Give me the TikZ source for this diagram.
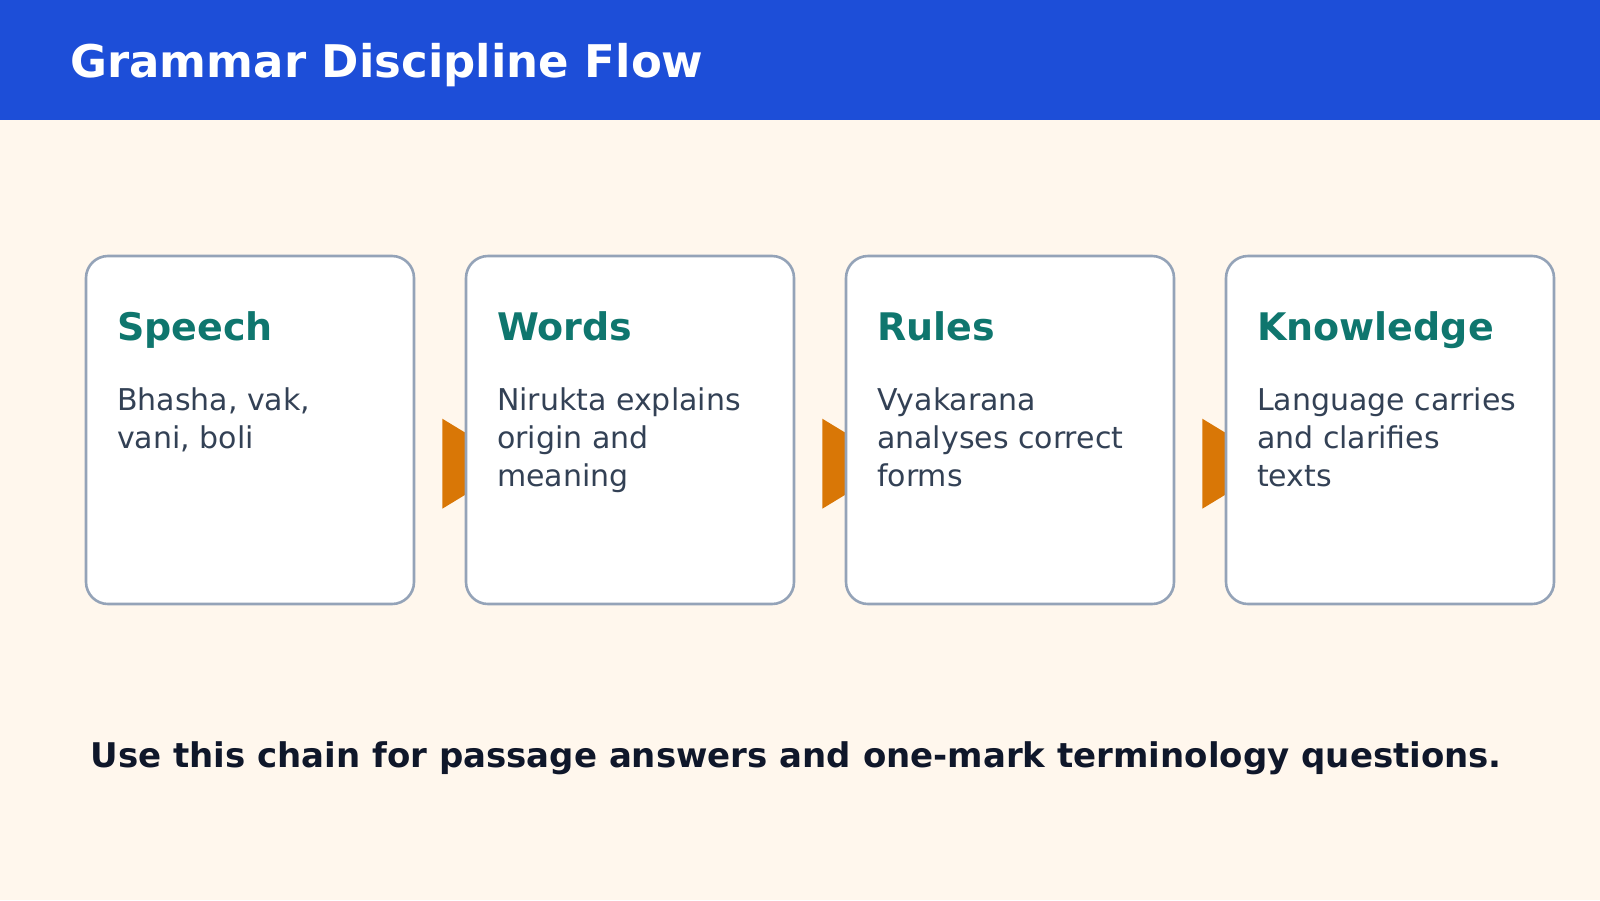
\documentclass[tikz,border=0pt]{standalone}
\usepackage{fontspec}
\setmainfont{DejaVu Sans}
\definecolor{headblue}{HTML}{1D4ED8}
\definecolor{paper}{HTML}{FFF7ED}
\definecolor{edgegray}{HTML}{94A3B8}
\definecolor{headteal}{HTML}{0F766E}
\definecolor{bodyslate}{HTML}{334155}
\definecolor{inkdark}{HTML}{0F172A}
\definecolor{amber1}{HTML}{D97706}
\usetikzlibrary{positioning, calc}
\pgfdeclarelayer{back}
\pgfsetlayers{back,main}

\begin{document}
\begin{tikzpicture}[x=0.5pt, y=-0.5pt,
  card/.style={rectangle, rounded corners=11pt, draw=edgegray, line width=1.3pt, fill=white, minimum width=164pt, minimum height=174pt, inner sep=0pt},
  hd/.style={anchor=base west, inner sep=0pt, text=headteal, font=\fontsize{19}{23}\selectfont\bfseries},
  bd/.style={anchor=north west, inner sep=0pt, text=bodyslate, align=left, font=\fontsize{15}{18.9}\selectfont},
]
  \useasboundingbox (0,0) rectangle (1600,900);
  % Header
  \fill[headblue] (0,0) rectangle (1600,120);
  \node[anchor=base west, inner sep=0pt, text=white, font=\fontsize{22.5}{28}\selectfont\bfseries] (title) at (70,77) {Grammar Discipline Flow};
  % Cards
  \node[card] (speech)    at (250,430)  {};
  \node[card] (words)     at (630,430)  {};
  \node[card] (rules)     at (1010,430) {};
  \node[card] (knowledge) at (1390,430) {};
  % Card texts
  \node[hd] (speechhd)    at ($(speech.north west)+(32,86)$)    {Speech};
  \node[hd] (wordshd)     at ($(words.north west)+(32,86)$)     {Words};
  \node[hd] (ruleshd)     at ($(rules.north west)+(32,86)$)     {Rules};
  \node[hd] (knowledgehd) at ($(knowledge.north west)+(32,86)$) {Knowledge};
  \node[bd] (speechbd)    at ($(speech.north west)+(32,133)$)    {Bhasha, vak,\\vani, boli};
  \node[bd] (wordsbd)     at ($(words.north west)+(32,133)$)     {Nirukta explains\\origin and\\meaning};
  \node[bd] (rulesbd)     at ($(rules.north west)+(32,133)$)     {Vyakarana\\analyses correct\\forms};
  \node[bd] (knowledgebd) at ($(knowledge.north west)+(32,133)$) {Language carries\\and clarifies\\texts};
  % Footer
  \node[anchor=base west, inner sep=0pt, text=inkdark, font=\fontsize{17}{20}\selectfont\bfseries] (note) at (90,767) {Use this chain for passage answers and one-mark terminology questions.};
  % Background and arrows
  \begin{pgfonlayer}{back}
    \fill[paper] (0,120) rectangle (1600,900);
    \fill[amber1] ($(speech.north east)+(27,164)$) -- ++(0,90) -- ++(74,-45) -- cycle;
    \fill[amber1] ($(words.north east)+(27,164)$) -- ++(0,90) -- ++(74,-45) -- cycle;
    \fill[amber1] ($(rules.north east)+(27,164)$) -- ++(0,90) -- ++(74,-45) -- cycle;
  \end{pgfonlayer}
\end{tikzpicture}
\end{document}
